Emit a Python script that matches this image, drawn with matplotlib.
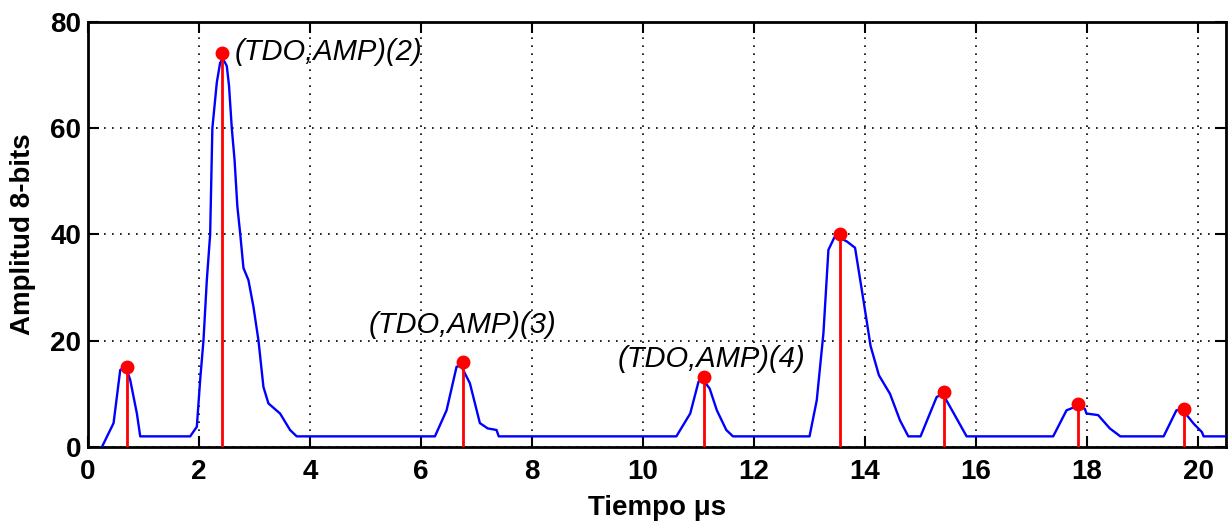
import numpy as np
import matplotlib
matplotlib.use("Agg")
import matplotlib.pyplot as plt

# waveform (time in us, amplitude in 8-bit counts)
t_wave = [0.25, 0.46, 0.58, 0.63, 0.70, 0.76, 0.88, 0.94,
          1.84, 1.96, 2.02, 2.08, 2.14, 2.20, 2.22, 2.24, 2.32, 2.38, 2.42, 2.46, 2.50,
          2.54, 2.59, 2.64, 2.69, 2.74, 2.80, 2.89, 2.98, 3.07, 3.16, 3.25, 3.46, 3.64, 3.76,
          6.25, 6.46, 6.64, 6.72, 6.88, 7.06, 7.20, 7.36, 7.40,
          10.60, 10.85, 11.00, 11.07, 11.20, 11.33, 11.50, 11.62,
          13.00, 13.13, 13.25, 13.34, 13.45, 13.55, 13.67, 13.82, 13.97, 14.10, 14.25,
          14.45, 14.63, 14.78,
          15.00, 15.29, 15.40, 15.60, 15.83,
          17.39, 17.63, 17.80, 17.96, 17.99, 18.20, 18.41, 18.60,
          19.38, 19.61, 19.72, 19.92, 20.07, 20.10, 20.50]
amp_wave = [0, 4.5, 14.5, 14.8, 14.5, 12.6, 6.3, 2,
            2, 3.8, 12.6, 20.1, 31.4, 40.0, 50.0, 60.0, 68.6, 72.3, 73.0, 72.5, 71.7,
            68.0, 60.0, 54.0, 45.3, 40.3, 33.7, 31.4, 26.4, 20.1, 11.3, 8.2, 6.3, 3.2, 2,
            2, 6.9, 15.1, 15.3, 12.0, 4.5, 3.5, 3.2, 2,
            2, 6.3, 12.3, 12.8, 11.0, 6.9, 3.2, 2,
            2, 8.8, 21.4, 37.1, 39.5, 39.3, 38.7, 37.5, 27.7, 19.0, 13.5,
            10.0, 5.0, 2,
            2, 9.4, 10.0, 6.3, 2,
            2, 6.9, 7.6, 7.2, 6.3, 6.0, 3.5, 2,
            2, 6.9, 7.0, 4.4, 2.8, 2, 2]

# detected peaks (TDO, AMP)
peak_t = [0.70, 2.41, 6.76, 11.10, 13.54, 15.43, 17.83, 19.75]
peak_amp = [15.1, 74.2, 16.0, 13.2, 40.1, 10.3, 8.0, 7.1]

labels = ["(TDO,AMP)(2)", "(TDO,AMP)(3)", "(TDO,AMP)(4)"]
label_t = [2.65, 5.05, 9.55]
label_amp = [74.4, 23.0, 16.5]

x_ticks = list(range(0, 21, 2))
y_ticks = [0, 20, 40, 60, 80]

plt.rcParams['font.family'] = ['Liberation Sans', 'DejaVu Sans']

fig = plt.figure(figsize=(12.28, 5.22), dpi=100)
ax = fig.add_axes([0.0717, 0.1437, 0.9265, 0.8143])

ax.plot(t_wave, amp_wave, color='#0000ff', lw=1.7, zorder=3)
ax.vlines(peak_t, 0, peak_amp, color='#ff0000', lw=2, zorder=4)
ax.plot(peak_t, peak_amp, 'o', color='#ff0000', ms=9, zorder=5)

for txt, tx, ty in zip(labels, label_t, label_amp):
    ax.text(tx, ty, txt, fontsize=21, style='italic', ha='left', va='center')

ax.set_xlim(0, 20.5)
ax.set_ylim(0, 80)
ax.set_xticks(x_ticks)
ax.set_yticks(y_ticks)
ax.grid(True, color='black', linestyle=(0, (1, 3.8)), lw=1.2)
ax.tick_params(direction='in', length=8, width=1.5, top=True, right=True,
               labelsize=20, pad=9)
ax.tick_params(axis='y', pad=5)
for lab in ax.get_xticklabels() + ax.get_yticklabels():
    lab.set_fontweight('bold')
for sp in ax.spines.values():
    sp.set_linewidth(2)

ax.set_xlabel('Tiempo μs', fontsize=20, fontweight='bold', labelpad=7)
ax.set_ylabel('Amplitud 8-bits', fontsize=20, fontweight='bold', labelpad=10)

fig.savefig('out.png', dpi=100)
